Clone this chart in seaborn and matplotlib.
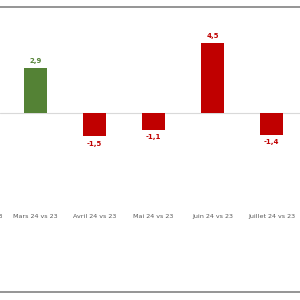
import numpy as np
import pandas as pd
import matplotlib
matplotlib.use("Agg")
import matplotlib.pyplot as plt
from matplotlib.lines import Line2D
import seaborn as sns

categories = ["Février 24 vs 23", "Mars 24 vs 23", "Avril 24 vs 23", "Mai 24 vs 23",
              "Juin 24 vs 23", "Juillet 24 vs 23"]
values = [np.nan, 2.9, -1.5, -1.1, 4.5, -1.4]
bar_colors = ["#C00000", "#548235", "#C00000", "#C00000", "#C00000", "#C00000"]

sns.set_style("white")
plt.rcParams["font.family"] = ["DejaVu Sans"]

df = pd.DataFrame({"cat": categories, "val": values})

fig = plt.figure(figsize=(3, 3), dpi=100)
ax = fig.add_axes([0, 95 / 300, 1, 205 / 300])

sns.barplot(data=df, x="cat", y="val", hue="cat", order=categories,
            hue_order=categories, palette=dict(zip(categories, bar_colors)),
            width=0.39, dodge=False, legend=False, ax=ax, saturation=1,
            edgecolor="none")

ax.axhline(0, color="#d9d9d9", lw=0.8, zorder=0)

for cont, col in zip(ax.containers, bar_colors):
    labs = []
    for v in cont.datavalues:
        labs.append("" if np.isnan(v) else f"{v:.1f}".replace(".", ","))
    ax.bar_label(cont, labels=labs, padding=3, color=col, fontsize=5,
                 fontweight="bold")

ax.set_xlim(0.398, 5.483)
ax.set_ylim(-92 / 15.6, 113 / 15.6)
ax.set_xlabel("")
ax.set_ylabel("")
ax.set_yticks([])
tick_pad = 6.4
ax.tick_params(axis="x", length=0, pad=tick_pad, labelsize=4.6, labelcolor="#595959")
for s in ax.spines.values():
    s.set_visible(False)

# label of the category whose tick lies just outside the view (only its end shows,
# as in the reference, where the chart is cropped at the left edge)
trans, va, ha = ax.get_xaxis_text1_transform(tick_pad)
ax.text(0, 0, categories[0], transform=trans, va=va, ha=ha, fontsize=4.6,
        color="#595959", clip_on=False)

fig.add_artist(Line2D([0, 1], [1 - 6.5 / 300, 1 - 6.5 / 300],
                      color="#8c8c8c", lw=1.3, transform=fig.transFigure))
fig.add_artist(Line2D([0, 1], [1 - 292 / 300, 1 - 292 / 300],
                      color="#8c8c8c", lw=1.3, transform=fig.transFigure))

fig.savefig("out.png", dpi=100)
